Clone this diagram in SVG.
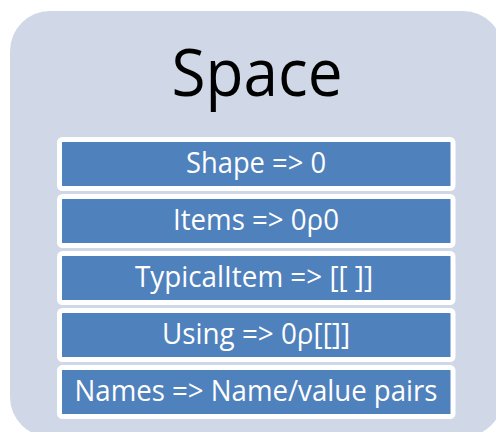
<svg xmlns="http://www.w3.org/2000/svg" width="496" height="432" viewBox="0 0 496 432">
<style>
.bg{fill:#ffffff}
.container{fill:#D0D7E6}
.box{fill:#4F81BD;stroke:#ffffff;stroke-width:5}
.title{font-family:"Open Sans","Noto Sans","Liberation Sans",sans-serif;font-size:66px;fill:#000000;text-anchor:middle}
.label{font-family:"Open Sans","Noto Sans","Liberation Sans",sans-serif;font-size:29px;fill:#ffffff;text-anchor:middle}
</style>
<rect class="bg" x="0" y="0" width="496" height="432"/>
<g id="space">
<rect class="container" x="10" y="11" width="493" height="426" rx="40" ry="40"/>
<text class="title" x="257" y="96" textLength="171" lengthAdjust="spacingAndGlyphs">Space</text>
</g>
<g id="shape">
<rect class="box" x="59.5" y="139.5" width="393.5" height="49" rx="3"/>
<text class="label" x="256" y="173" textLength="140" lengthAdjust="spacingAndGlyphs">Shape =&gt; 0</text>
</g>
<g id="items">
<rect class="box" x="59.5" y="196.5" width="393.5" height="49" rx="3"/>
<text class="label" x="256" y="229.5" textLength="166" lengthAdjust="spacingAndGlyphs">Items =&gt; 0ρ0</text>
</g>
<g id="typicalitem">
<rect class="box" x="59.5" y="253.5" width="393.5" height="49" rx="3"/>
<text class="label" x="254" y="286.5" textLength="238" lengthAdjust="spacingAndGlyphs">TypicalItem =&gt; [[ ]]</text>
</g>
<g id="using">
<rect class="box" x="59.5" y="310.5" width="393.5" height="49" rx="3"/>
<text class="label" x="256" y="343.5" textLength="188" lengthAdjust="spacingAndGlyphs">Using =&gt; 0ρ[[]]</text>
</g>
<g id="names">
<rect class="box" x="59.5" y="367.5" width="393.5" height="49" rx="3"/>
<text class="label" x="256" y="400.5" textLength="363" lengthAdjust="spacingAndGlyphs">Names =&gt; Name/value pairs</text>
</g>
<g id="connectors"/>
</svg>
